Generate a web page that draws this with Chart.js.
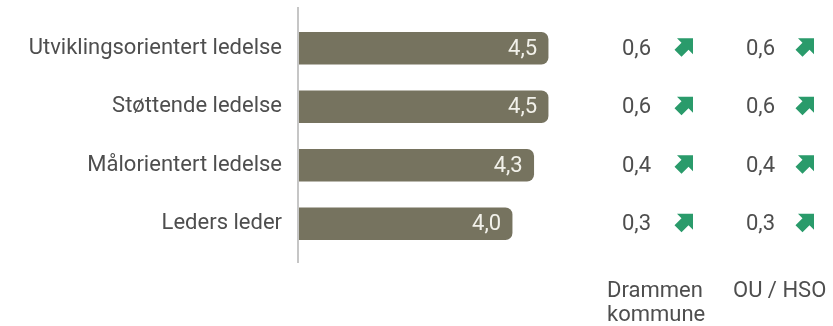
<!DOCTYPE html>
<html>
<head>
<meta charset="utf-8">
<script src="https://cdn.jsdelivr.net/npm/chart.js@4"></script>
<style>
  html, body { margin: 0; padding: 0; background: #ffffff; }
  #wrap { width: 833px; height: 326px; }
</style>
</head>
<body>
<div id="wrap"><canvas id="chart" width="833" height="326"></canvas></div>
<script>
// Ledelsesindekser - gjennomsnitt og endring
const categories = ['Utviklingsorientert ledelse', 'Støttende ledelse', 'Målorientert ledelse', 'Leders leder'];
const scores = [4.5, 4.5, 4.3, 4.0];
const drammenChange = [0.6, 0.6, 0.4, 0.3];
const ouHsoChange = [0.6, 0.6, 0.4, 0.3];
const columnLabels = [['Drammen', 'kommune'], ['OU / HSO']];

const COLORS = {
    bar: '#76735f',
    barText: '#f2f1ea',
    text: '#4e4e4e',
    axis: '#c6c6c6',
    arrow: '#2a9b6b'
};
const FONT = 'Roboto, "Noto Sans", sans-serif';
const FONT_SIZE = 22;

const fmt = v => v.toFixed(1).replace('.', ',');

function drawArrow(ctx, x, y) {
    // up-right arrow inside a 20x20 box
    const p = [[4, 0], [20, 0], [20, 16], [15.5, 11.5], [8.5, 18.5], [1.5, 11.5], [8.5, 4.5]];
    ctx.beginPath();
    ctx.moveTo(x + p[0][0], y + p[0][1]);
    for (let i = 1; i < p.length; i++) ctx.lineTo(x + p[i][0], y + p[i][1]);
    ctx.closePath();
    ctx.fillStyle = COLORS.arrow;
    ctx.fill();
}

const extrasPlugin = {
    id: 'extras',
    afterDatasetsDraw(chart) {
        const ctx = chart.ctx;
        const ys = chart.scales.y;
        const area = chart.chartArea;
        ctx.save();

        // vertical axis line
        const ax = area.left - 1;
        ctx.strokeStyle = COLORS.axis;
        ctx.lineWidth = 2;
        ctx.beginPath();
        ctx.moveTo(ax, 7);
        ctx.lineTo(ax, 263);
        ctx.stroke();

        // values inside bars
        const meta = chart.getDatasetMeta(0);
        ctx.font = FONT_SIZE + 'px ' + FONT;
        ctx.fillStyle = COLORS.barText;
        ctx.textAlign = 'right';
        ctx.textBaseline = 'middle';
        meta.data.forEach((bar, i) => {
            ctx.fillText(fmt(scores[i]), bar.x - 11, bar.y + 1);
        });

        // change columns
        ctx.textAlign = 'left';
        categories.forEach((c, i) => {
            const y = ys.getPixelForValue(i);
            ctx.fillStyle = COLORS.text;
            ctx.fillText(fmt(drammenChange[i]), 622, y + 1);
            drawArrow(ctx, 673, y - 10);
            ctx.fillStyle = COLORS.text;
            ctx.fillText(fmt(ouHsoChange[i]), 746, y + 1);
            drawArrow(ctx, 794, y - 10);
        });

        // column headers at bottom
        ctx.fillStyle = COLORS.text;
        ctx.textAlign = 'left';
        columnLabels[0].forEach((t, k) => ctx.fillText(t, 607, 291 + k * 24));
        columnLabels[1].forEach((t, k) => ctx.fillText(t, 733, 291 + k * 24));

        ctx.restore();
    }
};

new Chart(document.getElementById('chart'), {
    type: 'bar',
    data: {
        labels: categories,
        datasets: [{
            data: scores,
            backgroundColor: COLORS.bar,
            borderRadius: { topLeft: 0, bottomLeft: 0, topRight: 7, bottomRight: 7 },
            borderSkipped: false,
            barThickness: 32
        }]
    },
    options: {
        indexAxis: 'y',
        responsive: false,
        animation: false,
        layout: { padding: { top: 19, bottom: 73, left: 0, right: 246 } },
        plugins: {
            legend: { display: false },
            tooltip: { enabled: false }
        },
        scales: {
            x: {
                display: false,
                min: 1.04,
                max: 5.04
            },
            y: {
                grid: { display: false, drawTicks: false },
                border: { display: false },
                afterFit(scale) {
                    scale.width = 299;
                    scale.paddingTop = 0;
                    scale.paddingBottom = 0;
                },
                ticks: {
                    color: COLORS.text,
                    padding: 17,
                    font: { family: FONT, size: FONT_SIZE }
                }
            }
        }
    },
    plugins: [extrasPlugin]
});
</script>
</body>
</html>
